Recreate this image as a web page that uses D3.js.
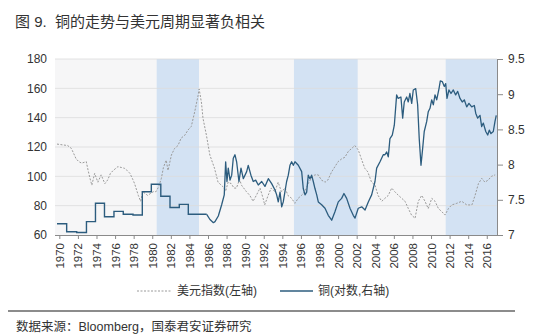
<!DOCTYPE html>
<html>
<head>
<meta charset="utf-8">
<script src="https://cdn.jsdelivr.net/npm/d3@7"></script>
<style>
  html, body { margin: 0; padding: 0; background: #fff; }
  svg { display: block; font-family: "Liberation Sans", "Noto Sans CJK SC", sans-serif; }
</style>
</head>
<body>
<div id="chart"></div>
<script>
// US dollar index (left axis): [year, index]
const usdIndex = [
  [1969.75,122],[1970.3,121.5],[1970.9,121],[1971.3,119],[1971.8,112],[1972.1,110],[1972.4,109],
  [1972.9,110],[1973.1,104],[1973.3,98.6],[1973.5,94],[1973.8,102],[1974.15,96],[1974.5,101],
  [1974.9,95],[1975.2,97.5],[1975.5,102],[1975.8,104],[1976.3,106.6],[1976.7,106],[1977.0,105.5],
  [1977.3,104],[1977.6,102],[1977.9,98],[1978.1,95],[1978.5,87],[1978.75,83],[1979.0,89.5],
  [1979.3,88],[1979.5,87],[1980.1,89.5],[1980.4,89.5],[1980.7,93],[1980.98,98.6],[1981.2,106],
  [1981.5,111],[1981.7,104],[1982.06,114.5],[1982.4,119],[1982.77,121],[1983.1,126],[1983.5,128],
  [1983.85,131.6],[1984.2,134],[1984.57,144],[1984.93,155],[1985.05,159.5],[1985.3,150],
  [1985.46,139.6],[1985.83,128],[1986.2,114.5],[1986.7,105.5],[1987.08,96],[1987.6,93],[1987.9,90],
  [1988.16,96],[1988.5,95],[1988.8,92],[1989.06,92],[1989.4,98],[1989.6,94],[1990.14,89.5],
  [1990.5,87],[1990.85,83],[1991.2,87],[1991.6,92],[1991.93,85],[1992.1,80.5],[1992.47,87],
  [1992.8,92],[1993.2,89.5],[1993.55,96],[1993.9,89.5],[1994.3,92],[1994.6,87],[1995.0,85],
  [1995.35,81.6],[1995.7,85],[1996.07,87],[1996.4,89.5],[1996.78,95],[1997.1,98.6],[1997.5,101],
  [1997.86,101],[1998.2,97.5],[1998.6,96],[1998.9,97.5],[1999.3,103],[1999.66,106.6],[2000.0,110],
  [2000.4,112],[2000.73,113],[2001.1,117],[2001.46,119],[2001.8,121],[2002.17,118],[2002.5,112],
  [2002.87,105.5],[2003.2,103],[2003.6,96],[2003.97,94],[2004.3,87],[2004.7,83],[2005.04,85],
  [2005.4,87],[2005.77,92],[2006.1,89.5],[2006.5,87],[2006.85,85],[2007.2,83],[2007.56,78],
  [2007.9,73.6],[2008.28,71.4],[2008.63,83],[2009.0,87],[2009.35,83],[2009.7,78],[2010.08,85],
  [2010.43,83],[2010.8,78],[2011.15,76],[2011.5,73.6],[2011.87,78],[2012.23,80.5],[2012.77,81.6],
  [2013.3,83],[2013.85,80.5],[2014.4,80.5],[2014.74,87],[2015.1,95],[2015.46,98.6],[2015.8,96],
  [2016.16,97.5],[2016.5,100],[2016.9,101]
];

// Copper, ln(price) (right axis): yearly steps up to the mid-1980s
const copperAnnual = [
  [1969.75,7.16],[1970.79,7.047],[1971.87,7.035],[1972.92,7.19],[1973.89,7.45],[1974.86,7.26],
  [1975.88,7.335],[1976.88,7.295],[1977.93,7.284],[1978.93,7.615],[1979.9,7.72],[1980.92,7.55],
  [1981.91,7.39],[1982.91,7.435],[1983.88,7.294],[1985.86,7.294]
];

// Copper, ln(price): higher-frequency readings from 1986 on
const copperDaily = [
  [1985.86,7.294],[1986.21,7.22],[1986.58,7.175],[1986.75,7.19],[1987.11,7.27],[1987.47,7.43],
  [1987.75,7.57],[1987.9,8.04],[1988.04,7.76],[1988.18,7.95],[1988.37,7.78],[1988.55,7.85],
  [1988.72,8.09],[1988.9,8.14],[1989.08,8.04],[1989.33,7.76],[1989.55,7.95],[1989.8,7.8],
  [1990.16,7.9],[1990.33,7.99],[1990.62,7.85],[1990.87,7.76],[1991.13,7.78],[1991.41,7.71],
  [1991.78,7.76],[1992.13,7.69],[1992.49,7.8],[1992.85,7.73],[1993.21,7.64],[1993.39,7.57],
  [1993.56,7.47],[1993.75,7.61],[1993.93,7.40],[1994.1,7.47],[1994.46,7.76],[1994.64,7.85],
  [1994.82,7.99],[1995.0,8.04],[1995.18,7.99],[1995.36,8.04],[1995.72,7.99],[1996.08,7.9],
  [1996.25,7.66],[1996.44,7.57],[1996.62,7.61],[1996.79,7.85],[1996.97,7.8],[1997.15,7.85],
  [1997.33,7.76],[1997.51,7.66],[1997.7,7.57],[1997.87,7.47],[1998.23,7.43],[1998.59,7.38],
  [1998.94,7.28],[1999.31,7.21],[1999.66,7.33],[2000.02,7.47],[2000.38,7.52],[2000.63,7.59],
  [2000.92,7.52],[2001.28,7.38],[2001.63,7.28],[2001.82,7.24],[2002.17,7.38],[2002.54,7.40],
  [2002.9,7.355],[2003.25,7.47],[2003.61,7.57],[2003.97,7.76],[2004.15,7.95],[2004.51,8.04],
  [2004.86,8.14],[2005.04,8.14],[2005.23,8.18],[2005.4,8.11],[2005.58,8.37],[2005.83,8.42],
  [2006.05,8.56],[2006.3,8.99],[2006.47,8.94],[2006.76,8.96],[2006.95,8.66],[2007.12,8.89],
  [2007.38,8.96],[2007.55,8.89],[2007.73,9.01],[2007.92,8.87],[2008.09,9.06],[2008.35,9.08],
  [2008.56,8.85],[2008.73,8.37],[2008.92,7.99],[2009.1,8.23],[2009.27,8.47],[2009.53,8.61],
  [2009.7,8.75],[2009.89,8.8],[2010.07,8.92],[2010.25,8.85],[2010.43,8.99],[2010.61,8.92],
  [2010.86,9.08],[2011.0,9.19],[2011.21,9.18],[2011.43,9.11],[2011.58,9.15],[2011.72,8.94],
  [2011.93,9.06],[2012.15,9.01],[2012.4,9.06],[2012.65,8.99],[2012.87,9.04],[2013.12,8.94],
  [2013.36,8.89],[2013.58,8.92],[2013.84,8.82],[2014.08,8.87],[2014.38,8.82],[2014.66,8.84],
  [2014.81,8.73],[2015.02,8.66],[2015.27,8.7],[2015.45,8.54],[2015.63,8.59],[2015.89,8.47],
  [2016.1,8.42],[2016.27,8.49],[2016.45,8.44],[2016.7,8.47],[2016.88,8.61],[2017.02,8.7]
];

// Periods of a strengthening dollar, shaded
const dollarUpcycles = [[1980.48,1985.03],[1995.25,2002.11],[2011.58,2017.1]];

const tickYears = d3.range(1970, 2017, 2);
const leftTicks = [60, 80, 100, 120, 140, 160, 180];
const rightTicks = [7, 7.5, 8, 8.5, 9, 9.5];

const titleText = "图 9.  铜的走势与美元周期显著负相关";
const legendUsd = "美元指数(左轴)";
const legendCopper = "铜(对数,右轴)";
const sourceText = "数据来源：Bloomberg，国泰君安证券研究";

const W = 550, H = 336;
const plot = { left: 55, right: 497, top: 59, bottom: 235 };
const copperColor = "#2c5c7e";
const usdColor = "#9a9a9a";

const svg = d3.select("#chart").append("svg").attr("width", W).attr("height", H);

const x = d3.scaleLinear().domain([1969.75, 2017.1]).range([57, plot.right]);
const yL = d3.scaleLinear().domain([60, 180]).range([plot.bottom, plot.top]);
const yR = d3.scaleLinear().domain([7, 9.5]).range([plot.bottom, plot.top]);

// title
svg.append("text")
  .attr("x", 15).attr("y", 27)
  .attr("font-size", 15).attr("fill", "#333")
  .style("white-space", "pre")
  .text(titleText);

// plot background and shaded periods
svg.append("rect")
  .attr("x", plot.left).attr("y", plot.top)
  .attr("width", plot.right - plot.left).attr("height", plot.bottom - plot.top)
  .attr("fill", "#f6f6f7");

svg.append("g").selectAll("rect").data(dollarUpcycles).join("rect")
  .attr("x", d => x(d[0])).attr("y", plot.top)
  .attr("width", d => x(d[1]) - x(d[0])).attr("height", plot.bottom - plot.top)
  .attr("fill", "#d3e2f3");

// horizontal gridlines
svg.append("g").selectAll("line").data(leftTicks.filter(v => v > 60)).join("line")
  .attr("x1", plot.left).attr("x2", plot.right)
  .attr("y1", d => yL(d)).attr("y2", d => yL(d))
  .attr("stroke", "#dcdcdc").attr("stroke-width", 0.8);

// left axis (labels only)
const gL = svg.append("g").attr("transform", `translate(${plot.left},0)`)
  .call(d3.axisLeft(yL).tickValues(leftTicks).tickSize(0).tickPadding(8).tickFormat(d3.format("d")));
gL.select(".domain").remove();
gL.selectAll("text").attr("font-size", 12).attr("fill", "#333").attr("font-family", null);

// right axis
const gR = svg.append("g").attr("transform", `translate(${plot.right},0)`)
  .call(d3.axisRight(yR).tickValues(rightTicks).tickSize(6).tickPadding(5).tickFormat(d3.format("~g")));
gR.select(".domain").attr("stroke", "#8a8a8a");
gR.selectAll(".tick line").attr("stroke", "#8a8a8a");
gR.selectAll("text").attr("font-size", 12).attr("fill", "#333").attr("font-family", null);

// bottom axis with rotated year labels
const gB = svg.append("g").attr("transform", `translate(0,${plot.bottom})`)
  .call(d3.axisBottom(x).tickValues(tickYears).tickSize(4).tickSizeOuter(0).tickFormat(d3.format("d")));
gB.select(".domain").attr("stroke", "#8a8a8a").attr("d", `M${plot.left},0.5H${plot.right}`);
gB.selectAll(".tick line").attr("stroke", "#8a8a8a");
gB.selectAll("text")
  .attr("font-size", 11.5).attr("fill", "#333").attr("font-family", null)
  .attr("transform", "rotate(-90)")
  .attr("text-anchor", "end")
  .attr("x", -8).attr("y", 0).attr("dy", "0.35em");

// dollar index, dashed
svg.append("path")
  .datum(usdIndex)
  .attr("fill", "none").attr("stroke", usdColor).attr("stroke-width", 1)
  .attr("stroke-dasharray", "2,1.5")
  .attr("d", d3.line().x(d => x(d[0])).y(d => yL(d[1])));

// copper: yearly steps, then the continuous series
svg.append("path")
  .datum(copperAnnual)
  .attr("fill", "none").attr("stroke", copperColor).attr("stroke-width", 1.4)
  .attr("d", d3.line().curve(d3.curveStepAfter).x(d => x(d[0])).y(d => yR(d[1])));

svg.append("path")
  .datum(copperDaily)
  .attr("fill", "none").attr("stroke", copperColor).attr("stroke-width", 1.3)
  .attr("stroke-linejoin", "round")
  .attr("d", d3.line().x(d => x(d[0])).y(d => yR(d[1])));

// legend
const lg = svg.append("g").attr("font-size", 12).attr("fill", "#333");
lg.append("line").attr("x1", 137).attr("x2", 172).attr("y1", 291).attr("y2", 291)
  .attr("stroke", usdColor).attr("stroke-width", 1).attr("stroke-dasharray", "2,1.5");
lg.append("text").attr("x", 177).attr("y", 291).attr("dy", "0.36em").text(legendUsd);
lg.append("line").attr("x1", 280).attr("x2", 313).attr("y1", 291).attr("y2", 291)
  .attr("stroke", copperColor).attr("stroke-width", 1.4);
lg.append("text").attr("x", 318).attr("y", 291).attr("dy", "0.36em").text(legendCopper);

// separator and source note
svg.append("line").attr("x1", 8).attr("x2", 515).attr("y1", 311).attr("y2", 311)
  .attr("stroke", "#666").attr("stroke-width", 1.5);
svg.append("text").attr("x", 16).attr("y", 326).attr("dy", "0.36em")
  .attr("font-size", 12.5).attr("fill", "#333").text(sourceText);
</script>
</body>
</html>
